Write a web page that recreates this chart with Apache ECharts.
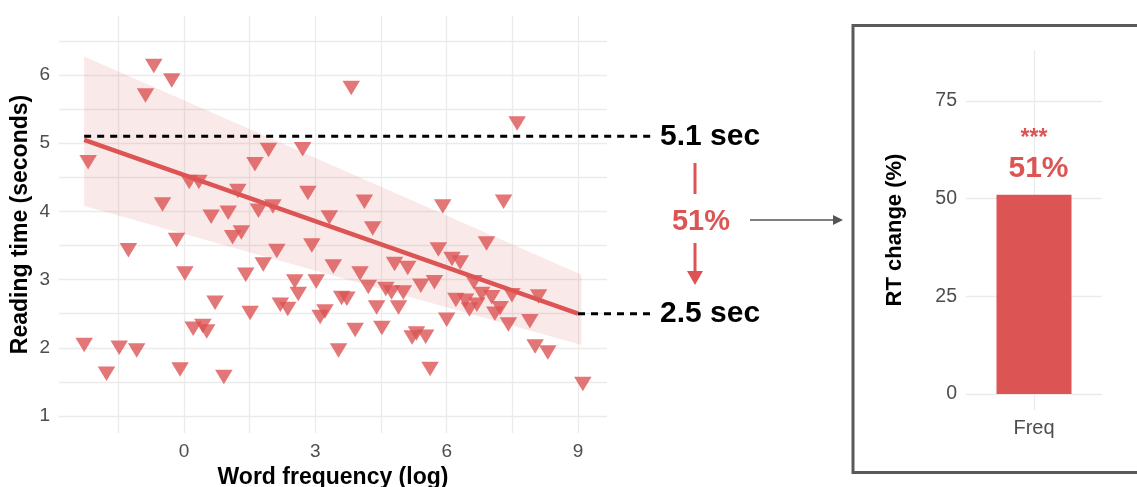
<!DOCTYPE html>
<html><head><meta charset="utf-8">
<script src="https://cdn.jsdelivr.net/npm/echarts@6/dist/echarts.min.js"></script>
<style>html,body{margin:0;padding:0;background:#fff}#c{width:1137px;height:487px}</style>
</head><body><div id="c"></div>
<script>
// ---- data ----
const freq = [-0.69,-0.28,-0.88,-2.19,0.12,0.34,-0.49,1.62,1.93,2.71,
  1.23,0.62,1.01,1.70,2.03,2.83,3.32,1.11,1.31,-0.17,
  -1.27,2.12,2.92,1.81,3.41,0.02,1.41,2.53,3.02,2.61,
  0.71,2.20,2.37,1.51,3.60,3.72,3.11,3.22,0.21,0.43,
  0.52,-2.28,-1.48,-1.08,3.53,-1.77,-0.09,0.91,3.82,7.61,
  4.12,4.31,5.91,7.30,5.81,6.91,6.12,6.31,4.02,4.81,
  5.11,4.21,4.61,4.74,5.01,5.41,5.72,6.62,6.80,7.03,
  7.49,8.10,6.21,6.43,6.69,6.52,7.22,7.10,4.40,4.90,
  6.00,7.41,7.90,3.91,4.52,5.21,5.31,5.52,5.62,8.02,
  8.31,9.11];
const readingTime = [6.13,5.92,5.70,4.72,4.43,4.43,4.10,4.69,4.90,4.91,
  4.30,3.92,3.98,4.01,4.07,4.27,3.91,3.62,3.69,3.58,
  3.43,3.42,3.50,3.22,3.19,3.09,3.07,2.97,2.97,2.79,
  2.66,2.63,2.57,2.51,2.73,2.72,2.45,2.53,2.28,2.32,
  2.24,2.04,2.00,1.96,1.96,1.62,1.68,1.57,5.81,5.29,
  4.14,3.75,4.07,4.14,3.44,3.53,3.30,3.25,3.09,3.23,
  3.17,2.89,2.86,2.81,2.81,2.91,2.96,2.96,2.79,2.74,
  2.77,2.75,2.70,2.69,2.63,2.56,2.58,2.50,2.59,2.59,
  2.41,2.34,2.39,2.26,2.29,2.15,2.21,2.16,1.69,2.02,
  1.93,1.47];
const fitX = [-2.28, 9.0];
const fitY = [5.05, 2.5];
const bandX = [-2.28, 9.08];
const bandLow = [4.08, 2.04];
const bandHigh = [6.27, 3.07];
const refY = [5.1, 2.5];
const refStartX = [-2.28, 9.0];
const refEndX = 10.69;
const refLabels = ['5.1 sec', '2.5 sec'];
const xTickLabels = [0, 3, 6, 9];
const xGridVals = [-1.5, 0, 1.5, 3, 4.5, 6, 7.5, 9];
const yTickLabels = [1, 2, 3, 4, 5, 6];
const yGridVals = [1, 1.5, 2, 2.5, 3, 3.5, 4, 4.5, 5, 5.5, 6, 6.5];
const changeLabel = '51%';
const barCats = ['Freq'];
const barVals = [51];
const barLabel = '51%';
const sigLabel = '***';
const barTicks = [0, 25, 50, 75];

// ---- style ----
const RED = '#DC5454';
const GRID = '#ebebeb';
const TICK = '#4d4d4d';
const FONT = "'Liberation Sans', Arial, Helvetica, sans-serif";

const X_MIN = -2.855, X_MAX = 9.662, X_MAX_WIDE = 10.9;
const Y_MIN = 0.75, Y_MAX = 6.865;

const chart = echarts.init(document.getElementById('c'), null, {renderer: 'canvas'});

const pts = freq.map((x, i) => [x, readingTime[i]]);
const fit = fitX.map((x, i) => [x, fitY[i]]);

const refSeries = refY.map((y, i) => ({
  type: 'line', xAxisIndex: 2, yAxisIndex: 2, silent: true,
  symbol: 'none', z: 6,
  data: [[refStartX[i], y], [refEndX, y]],
  lineStyle: {color: '#000', width: 3, type: [7, 6]},
  endLabel: {show: true, formatter: () => refLabels[i], distance: 8,
    fontSize: 30, fontWeight: 'bold', color: '#000', fontFamily: FONT}
}));

const hiddenAxis = {show: false, axisLine: {show: false}, axisTick: {show: false},
  axisLabel: {show: false}, splitLine: {show: false}};

chart.setOption({
  animation: false,
  textStyle: {fontFamily: FONT},
  grid: [
    {left: 59, right: 530, top: 16, bottom: 54, outerBoundsMode: 'none'},
    {left: 966, right: 35, top: 50, bottom: 77, outerBoundsMode: 'none'},
    {left: 59, right: 1137 - 59 - (X_MAX_WIDE - X_MIN) * 548 / (X_MAX - X_MIN), top: 16, bottom: 54, outerBoundsMode: 'none'}
  ],
  xAxis: [
    {type: 'value', gridIndex: 0, min: X_MIN, max: X_MAX,
      axisLine: {show: false},
      axisTick: {show: false, customValues: xGridVals},
      axisLabel: {customValues: xTickLabels, color: TICK, fontSize: 19, margin: 9},
      splitLine: {show: true, lineStyle: {color: GRID, width: 1.3}},
      name: 'Word frequency (log)', nameLocation: 'middle', nameGap: 29,
      nameTextStyle: {fontSize: 23, fontWeight: 'bold', color: '#000'}},
    {type: 'category', gridIndex: 1, data: barCats,
      axisLine: {show: false}, axisTick: {show: false},
      axisLabel: {color: TICK, fontSize: 20, margin: 8},
      splitLine: {show: false}},
    Object.assign({type: 'value', gridIndex: 2, min: X_MIN, max: X_MAX_WIDE}, hiddenAxis)
  ],
  yAxis: [
    {type: 'value', gridIndex: 0, min: Y_MIN, max: Y_MAX,
      axisLine: {show: false},
      axisTick: {show: false, customValues: yGridVals},
      axisLabel: {customValues: yTickLabels, color: TICK, fontSize: 19, margin: 9},
      splitLine: {show: true, lineStyle: {color: GRID, width: 1.3}},
      name: 'Reading time (seconds)', nameLocation: 'middle', nameGap: 27,
      nameTextStyle: {fontSize: 23, fontWeight: 'bold', color: '#000'}},
    {type: 'value', gridIndex: 1, min: -4.1, max: 88,
      axisLine: {show: false},
      axisTick: {show: false, customValues: barTicks},
      axisLabel: {customValues: barTicks, color: TICK, fontSize: 19.5, margin: 9},
      splitLine: {show: true, lineStyle: {color: GRID, width: 1.3}},
      name: 'RT change (%)', nameLocation: 'middle', nameGap: 60,
      nameTextStyle: {fontSize: 22, fontWeight: 'bold', color: '#000'}},
    Object.assign({type: 'value', gridIndex: 2, min: Y_MIN, max: Y_MAX}, hiddenAxis)
  ],
  series: [
    {type: 'custom', xAxisIndex: 0, yAxisIndex: 0, silent: true, z: 1, data: [0],
      renderItem: (params, api) => {
        const upper = bandX.map((x, i) => api.coord([x, bandHigh[i]]));
        const lower = bandX.map((x, i) => api.coord([x, bandLow[i]])).reverse();
        return {type: 'polygon', shape: {points: upper.concat(lower)},
          style: {fill: RED, opacity: 0.13}};
      }},
    {type: 'scatter', xAxisIndex: 0, yAxisIndex: 0, data: pts,
      symbol: 'triangle', symbolRotate: 180, symbolSize: [17.5, 14.5],
      itemStyle: {color: RED, opacity: 0.8}, z: 3},
    {type: 'line', xAxisIndex: 0, yAxisIndex: 0, data: fit, symbol: 'none', silent: true,
      lineStyle: {color: RED, width: 4.5}, z: 4},
    ...refSeries,
    {type: 'line', xAxisIndex: 1, yAxisIndex: 1, data: [], silent: true, z: 1,
      markLine: {silent: true, symbol: 'none', z: 1, label: {show: false},
        lineStyle: {color: GRID, width: 1.3, type: 'solid'},
        data: [{xAxis: barCats[0]}]}},
    {type: 'bar', xAxisIndex: 1, yAxisIndex: 1, data: barVals, barWidth: 75, z: 3,
      itemStyle: {color: RED},
      label: {show: true, position: 'top', distance: 9,
        formatter: '{s|' + sigLabel + '}\n{p|' + barLabel + '}',
        rich: {
          s: {fontSize: 23, fontWeight: 'bold', color: RED, lineHeight: 26, fontFamily: FONT},
          p: {fontSize: 30, fontWeight: 'bold', color: RED, lineHeight: 34, fontFamily: FONT, padding: [0, 0, 0, 9]}
        }}}
  ],
  graphic: [
    {type: 'rect', shape: {x: 853, y: 25.5, width: 320, height: 447},
      style: {fill: 'none', stroke: '#5a5a5a', lineWidth: 3}, silent: true},
    {type: 'line', shape: {x1: 695, y1: 163, x2: 695, y2: 194},
      style: {stroke: RED, lineWidth: 3}, silent: true},
    {type: 'text', x: 701, y: 222,
      style: {text: changeLabel, fill: RED, font: 'bold 29px ' + FONT, textAlign: 'center', textVerticalAlign: 'middle'}},
    {type: 'line', shape: {x1: 695, y1: 243, x2: 695, y2: 273},
      style: {stroke: RED, lineWidth: 3}, silent: true},
    {type: 'polygon', shape: {points: [[687, 271], [703, 271], [695, 285]]},
      style: {fill: RED}, silent: true},
    {type: 'line', shape: {x1: 750, y1: 220, x2: 835, y2: 220},
      style: {stroke: '#555', lineWidth: 1.5}, silent: true},
    {type: 'polygon', shape: {points: [[833, 215], [843, 220], [833, 225]]},
      style: {fill: '#555'}, silent: true}
  ]
});
</script></body></html>
